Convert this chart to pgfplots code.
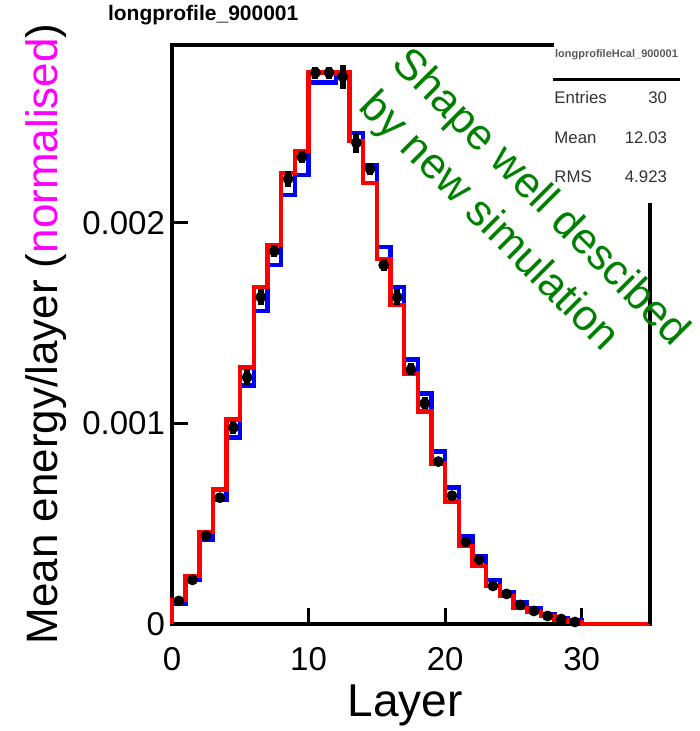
\documentclass[border=0pt]{standalone}
\usepackage{fontspec}
\setmainfont{Liberation Sans}
\usepackage{pgfplots}
\pgfplotsset{compat=1.18}
\definecolor{rootgreen}{RGB}{0,128,0}
\definecolor{rootmagenta}{RGB}{255,0,255}

\begin{document}
\begin{tikzpicture}
\useasboundingbox (-86pt,-53.5pt) rectangle (263.5pt,312pt);
\begin{axis}[
    scale only axis, width=239pt, height=289.5pt,
    xmin=0, xmax=35, ymin=0, ymax=0.0028878,
    axis x line*=bottom, axis y line*=left,
    axis line style={line width=2pt, line cap=rect},
    tick align=inside, major tick length=8pt,
    major tick style={line width=1.5pt, black},
    xtick={0,10,20,30}, xticklabels={0,10,20,30},
    ytick={0,0.001,0.002}, yticklabels={0,0.001,0.002},
    scaled y ticks=false,
    ticklabel style={font=\fontsize{16.5}{19}\selectfont},
    xticklabel style={yshift=-8pt},
    clip=false,
  ]
  % simulation (blue)
  \addplot[const plot, blue, line width=2.2pt] coordinates {
    (0,0)(0,0.00010)(1,0.00022)(2,0.00042)(3,0.00062)(4,0.00093)
    (5,0.00119)(6,0.00156)(7,0.00179)(8,0.00214)(9,0.00224)
    (10,0.00270)(11,0.00270)(12,0.00274)(13,0.00245)(14,0.00229)
    (15,0.00188)(16,0.00168)(17,0.00132)(18,0.00115)(19,0.00086)
    (20,0.00068)(21,0.00044)(22,0.00034)(23,0.00022)(24,0.00016)
    (25,0.00011)(26,0.00008)(27,0.00005)(28,0.00003)(29,0.00002)(30,0)
  };
  % new simulation (red)
  \addplot[const plot, red, line width=2.2pt] coordinates {
    (0,0)(0,0.00012)(1,0.00024)(2,0.00046)(3,0.00067)(4,0.00102)
    (5,0.00128)(6,0.00168)(7,0.00189)(8,0.00225)(9,0.00236)
    (10,0.00275)(11,0.00275)(12,0.00275)(13,0.00241)(14,0.00220)
    (15,0.00182)(16,0.00159)(17,0.00125)(18,0.00106)(19,0.00080)
    (20,0.00061)(21,0.00039)(22,0.00029)(23,0.00019)(24,0.00014)
    (25,0.00008)(26,0.00006)(27,0.00004)(28,0.00002)(29,0.00001)
    (30,0)(35,0)
  };
  % data
  \addplot[only marks, mark=*, mark size=2.5pt, black,
    error bars/.cd, y dir=both, y explicit,
    error bar style={line width=3pt, black}, error mark=none]
    coordinates {
    (0.5,0.000115) +- (0,0.00001)
    (1.5,0.00022) +- (0,0.00002)
    (2.5,0.00044) +- (0,0.00002)
    (3.5,0.00063) +- (0,0.00002)
    (4.5,0.00098) +- (0,0.00003)
    (5.5,0.00123) +- (0,0.00004)
    (6.5,0.00163) +- (0,0.00004)
    (7.5,0.00186) +- (0,0.00003)
    (8.5,0.00222) +- (0,0.00004)
    (9.5,0.00233) +- (0,0.00003)
    (10.5,0.00275) +- (0,0.00003)
    (11.5,0.00275) +- (0,0.00003)
    (12.5,0.00273) +- (0,0.00006)
    (13.5,0.00240) +- (0,0.00005)
    (14.5,0.00227) +- (0,0.00003)
    (15.5,0.00179) +- (0,0.00003)
    (16.5,0.00163) +- (0,0.00004)
    (17.5,0.00127) +- (0,0.00003)
    (18.5,0.00110) +- (0,0.00003)
    (19.5,0.00081) +- (0,0.00002)
    (20.5,0.00064) +- (0,0.00002)
    (21.5,0.00041) +- (0,0.00002)
    (22.5,0.00032) +- (0,0.00001)
    (23.5,0.00019) +- (0,0.00001)
    (24.5,0.00015) +- (0,0.00001)
    (25.5,0.000095) +- (0,0.00001)
    (26.5,0.000065) +- (0,0.00001)
    (27.5,0.00004) +- (0,0.00001)
    (28.5,0.000025) +- (0,0.00001)
    (29.5,0.00001) +- (0,0.00001)
  };
  % frame pieces not hidden by the stats box
  \draw[line width=2pt, line cap=rect] (axis cs:0,0.0028878) -- (axis cs:27.8,0.0028878);
  \draw[line width=2pt] (axis cs:35,0) -- (axis cs:35,0.0021);
\end{axis}

\node[anchor=west, font=\bfseries\fontsize{10.5}{12}\selectfont] at (-35.5pt,304.5pt) {longprofile\_900001};

% stats box
\node[anchor=west, font=\bfseries\fontsize{5.5}{6}\selectfont, text=black!65] at (188pt,284.5pt) {longprofileHcal\_900001};
\draw[line width=1.5pt] (190.5pt,272pt) -- (254pt,272pt);
\node[anchor=west, font=\fontsize{8.4}{10}\selectfont, text=black!80] at (187.7pt,263pt) {Entries};
\node[anchor=east, font=\fontsize{8.4}{10}\selectfont, text=black!80] at (251pt,263pt) {30};
\node[anchor=west, font=\fontsize{8.4}{10}\selectfont, text=black!80] at (187.7pt,243pt) {Mean};
\node[anchor=east, font=\fontsize{8.4}{10}\selectfont, text=black!80] at (251pt,243pt) {12.03};
\node[anchor=west, font=\fontsize{8.4}{10}\selectfont, text=black!80] at (187.7pt,223.5pt) {RMS};
\node[anchor=east, font=\fontsize{8.4}{10}\selectfont, text=black!80] at (251pt,223.5pt) {4.923};

% axis titles
\node[rotate=90, anchor=base, font=\fontsize{22}{26}\selectfont] at (-57pt,145pt)
  {Mean energy/layer (\textcolor{rootmagenta}{normalised})};
\node[anchor=base, font=\fontsize{23}{27}\selectfont] at (116.5pt,-46pt) {Layer};

% annotation
\node[rotate=-45, text=rootgreen, align=left, font=\fontsize{21.75}{26.85}\selectfont]
  at (174.5pt,203.25pt) {Shape well descibed\\\hspace{3.5pt}by new simulation};
\end{tikzpicture}
\end{document}
